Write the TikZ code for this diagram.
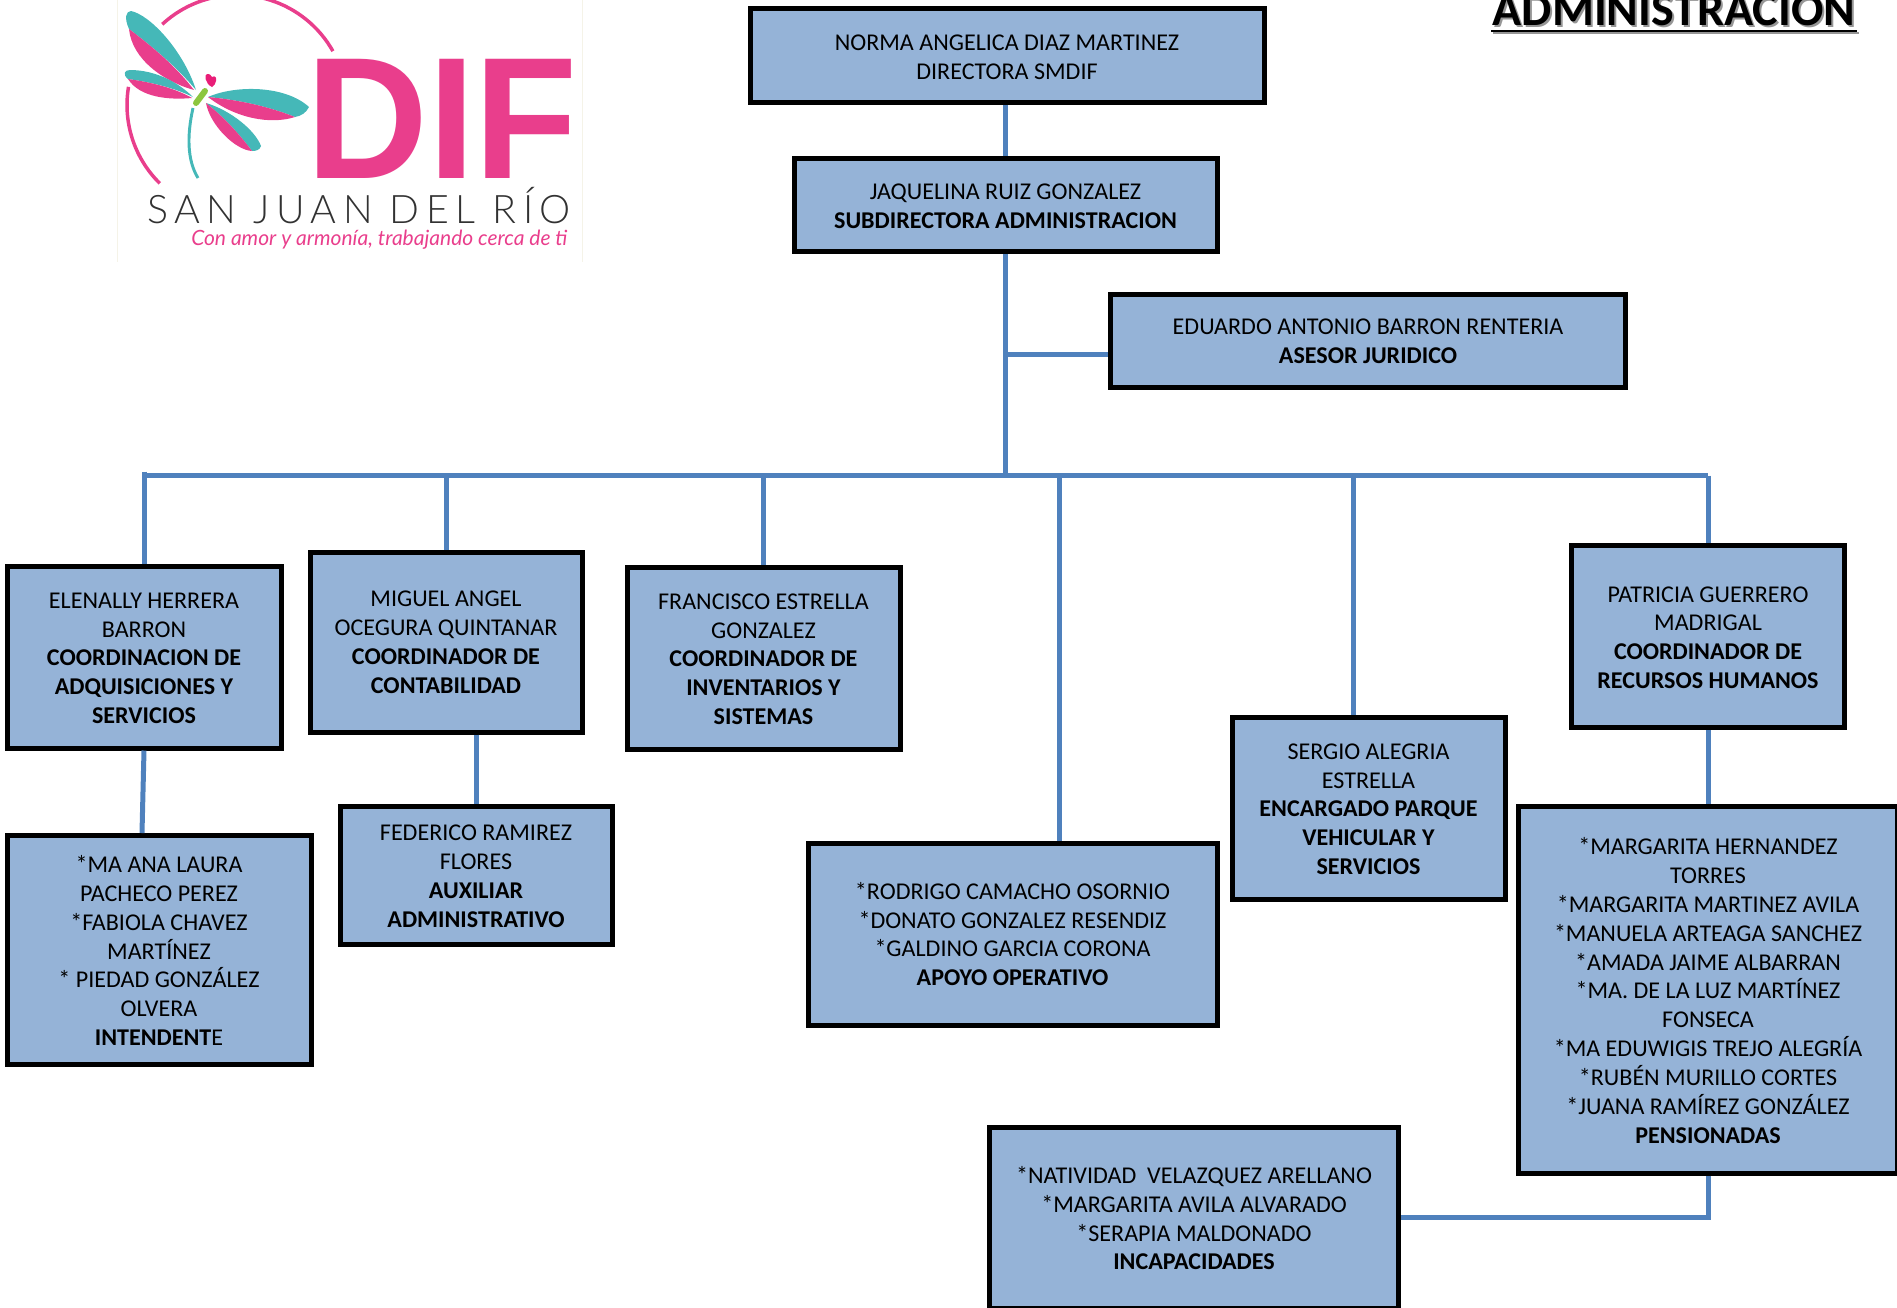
\documentclass[tikz,border=0pt]{standalone}
\usepackage{fontspec}
\setmainfont{Carlito}
\newfontfamily\diffont{Liberation Sans}
\newfontfamily\sanjuanfont[LetterSpace=16.5]{Lato Light}
\newfontfamily\lemafont{Lato}
\newcommand{\alto}{\rule{0pt}{13.5pt}}
\tikzset{
  orgbox/.style={draw=black,line width=3.75pt,fill={rgb, 255:red, 149; green, 179; blue, 215 },align=center,inner sep=0pt,text=black,
    font=\fontsize{18.05}{21.65}\selectfont},
  orgline/.style={draw={rgb, 255:red, 79; green, 129; blue, 189 },line width=3.75pt},
  logopink/.style={fill={rgb, 255:red, 233; green, 62; blue, 140 }},
  logoteal/.style={fill={rgb, 255:red, 69; green, 184; blue, 184 }},
}
\begin{document}
\begin{tikzpicture}[x=0.75pt,y=0.75pt,yscale=-1,xscale=1]
\useasboundingbox (0,0) rectangle (1897,1307);

%Logo edges
\draw [color={rgb, 255:red, 245; green, 243; blue, 232 }] (117,0) -- (117,262) ;
\draw [color={rgb, 255:red, 245; green, 243; blue, 232 }] (582,0) -- (582,262) ;
%Logo ring
\draw [color={rgb, 255:red, 233; green, 62; blue, 140 },line width=2.6pt] (237,105) ++(-132.8:110) arc [start angle=-132.8,end angle=-29.3,radius=110] ;
\draw [color={rgb, 255:red, 233; green, 62; blue, 140 },line width=2.6pt] (237,105) ++(189.5:110) arc [start angle=189.5,end angle=134.6,radius=110] ;
%Wings
\fill [logoteal] (129,29) .. controls (124,18) and (126,11) .. (131,11) .. controls (150,15) and (183,50) .. (196,90) .. controls (175,65) and (150,45) .. (129,29) -- cycle ;
\fill [logopink] (129,29) .. controls (150,45) and (175,65) .. (194,90) .. controls (165,82) and (132,60) .. (129,29) -- cycle ;
\fill [logoteal] (128,79) .. controls (122,74) and (125,70) .. (130,70) .. controls (155,70) and (178,82) .. (193,97) .. controls (175,88) and (150,82) .. (128,79) -- cycle ;
\fill [logopink] (128,79) .. controls (150,82) and (175,88) .. (192,98) .. controls (170,100) and (140,98) .. (128,79) -- cycle ;
\fill [logoteal] (208,97) .. controls (235,85) and (285,85) .. (309,107) .. controls (306,113) and (301,116) .. (295,117) .. controls (270,107) and (240,100) .. (208,97) -- cycle ;
\fill [logopink] (208,97) .. controls (240,100) and (270,107) .. (295,117) .. controls (270,125) and (235,118) .. (208,97) -- cycle ;
\fill [logoteal] (206,103) .. controls (230,110) and (255,130) .. (261,146) .. controls (260,150) and (256,151) .. (252,151) .. controls (240,135) and (225,118) .. (206,103) -- cycle ;
\fill [logopink] (206,103) .. controls (225,118) and (240,135) .. (252,151) .. controls (235,150) and (210,125) .. (206,103) -- cycle ;
%Body, heart and tail
\draw [color={rgb, 255:red, 140; green, 198; blue, 63 },line width=4.5pt,line cap=round] (205,91) -- (196,103) ;
\fill [color={rgb, 255:red, 233; green, 30; blue, 120 }] (212,87) .. controls (205,84) and (204,74) .. (207,74) .. controls (209,73) and (211,75) .. (212,77) .. controls (215,75) and (217,78) .. (216,81) .. controls (216,83) and (214,86) .. (212,87) -- cycle ;
\draw [color={rgb, 255:red, 69; green, 184; blue, 184 },line width=2.2pt] (193,108) .. controls (187,135) and (187,160) .. (198,178) ;

% Text Node
\node (dif) [anchor=base west,inner sep=0pt,xscale=0.973,text={rgb, 255:red, 233; green, 62; blue, 140 },font=\diffont\bfseries\fontsize{130}{130}\selectfont] at (306,178) {DIF};
% Text Node
\node (sanjuan) [anchor=base west,inner sep=0pt,text height=21pt,text={rgb, 255:red, 50; green, 50; blue, 50 },font=\sanjuanfont\fontsize{29.5}{29.5}\selectfont] at (147,223) {SAN JUAN DEL RÍO};
% Text Node
\node (lema) [anchor=base west,inner sep=0pt,text={rgb, 255:red, 233; green, 62; blue, 140 },font=\lemafont\itshape\fontsize{15.75}{15.75}\selectfont] at (191,245.5) {Con amor y armonía, trabajando cerca de ti};

% Text Node
\node (sombra) [anchor=base,inner sep=0pt,text={rgb, 255:red, 150; green, 150; blue, 150 },font=\bfseries\fontsize{36}{36}\selectfont] at (1676,27) {ADMINISTRACION};
\node (titulo) [anchor=base,inner sep=0pt,text=black,font=\bfseries\fontsize{36}{36}\selectfont] at (1674,25) {ADMINISTRACION};
\coordinate (subA) at ([xshift=-1pt]titulo.base west) ;
\coordinate (subB) at ([xshift=1pt]titulo.base east) ;
%Title underline
\draw [color={rgb, 255:red, 150; green, 150; blue, 150 },line width=1.7pt] ([shift={(2,8)}]subA) -- ([shift={(2,8)}]subB) ;
\draw [line width=1.7pt] ([shift={(0,6)}]subA) -- ([shift={(0,6)}]subB) ;

%Boxes
\node (norma) [orgbox,minimum width=514*0.75pt,minimum height=94*0.75pt] at (1007,55.7) {\alto NORMA ANGELICA DIAZ MARTINEZ\\DIRECTORA SMDIF};
\node (jaquelina) [orgbox,minimum width=423*0.75pt,minimum height=93*0.75pt] at (1005.5,205) {\alto JAQUELINA RUIZ GONZALEZ\\\textbf{SUBDIRECTORA ADMINISTRACION}};
\node (eduardo) [orgbox,minimum width=515*0.75pt,minimum height=93*0.75pt] at (1368,340.5) {\alto EDUARDO ANTONIO BARRON RENTERIA\\\textbf{ASESOR JURIDICO}};
\node (elenally) [orgbox,minimum width=274*0.75pt,minimum height=182*0.75pt] at (144,657) {\alto ELENALLY HERRERA\\BARRON\\\textbf{COORDINACION DE}\\\textbf{ADQUISICIONES Y}\\\textbf{SERVICIOS}};
\node (miguel) [orgbox,minimum width=272*0.75pt,minimum height=180*0.75pt] at (446,642) {MIGUEL ANGEL\\OCEGURA QUINTANAR\\\textbf{COORDINADOR DE}\\\textbf{CONTABILIDAD}};
\node (francisco) [orgbox,minimum width=273*0.75pt,minimum height=182*0.75pt] at (763.5,658) {\alto FRANCISCO ESTRELLA\\GONZALEZ\\\textbf{COORDINADOR DE}\\\textbf{INVENTARIOS Y}\\\textbf{SISTEMAS}};
\node (patricia) [orgbox,minimum width=273*0.75pt,minimum height=182*0.75pt] at (1708,636.5) {\alto PATRICIA GUERRERO\\MADRIGAL\\\textbf{COORDINADOR DE}\\\textbf{RECURSOS HUMANOS}};
\node (intendente) [orgbox,minimum width=304*0.75pt,minimum height=229*0.75pt] at (159,950) {\alto *MA ANA LAURA\\PACHECO PEREZ\\*FABIOLA CHAVEZ\\MARTÍNEZ\\* PIEDAD GONZÁLEZ\\OLVERA\\\textbf{INTENDENT}E};
\node (federico) [orgbox,minimum width=272*0.75pt,minimum height=138*0.75pt] at (476,875) {\alto FEDERICO RAMIREZ\\FLORES\\\textbf{AUXILIAR}\\\textbf{ADMINISTRATIVO}};
\node (apoyo) [orgbox,minimum width=409*0.75pt,minimum height=182*0.75pt] at (1012.5,934) {*RODRIGO CAMACHO OSORNIO\\*DONATO GONZALEZ RESENDIZ\\*GALDINO GARCIA CORONA\\\textbf{APOYO OPERATIVO}};
\node (sergio) [orgbox,minimum width=273*0.75pt,minimum height=182*0.75pt] at (1368.5,808) {\alto SERGIO ALEGRIA\\ESTRELLA\\\textbf{ENCARGADO PARQUE}\\\textbf{VEHICULAR Y}\\\textbf{SERVICIOS}};
\node (pensionadas) [orgbox,minimum width=379*0.75pt,minimum height=366.5*0.75pt] at (1708,990) {\alto *MARGARITA HERNANDEZ\\TORRES\\*MARGARITA MARTINEZ AVILA\\*MANUELA ARTEAGA SANCHEZ\\*AMADA JAIME ALBARRAN\\*MA. DE LA LUZ MARTÍNEZ\\FONSECA\\*MA EDUWIGIS TREJO ALEGRÍA\\*RUBÉN MURILLO CORTES\\*JUANA RAMÍREZ GONZÁLEZ\\\textbf{PENSIONADAS}};
\node (incapacidades) [orgbox,minimum width=409*0.75pt,minimum height=180.5*0.75pt] at (1194,1217.75) {\alto *NATIVIDAD~~VELAZQUEZ ARELLANO\\*MARGARITA AVILA ALVARADO\\*SERAPIA MALDONADO\\\textbf{INCAPACIDADES}};

%Bus points
\coordinate (tronco) at (1005.5,475.7) ;
\coordinate (ramaA) at (144,475.7) ;
\coordinate (ramaB) at (446,475.7) ;
\coordinate (ramaC) at (763.5,475.7) ;
\coordinate (ramaD) at (1059,475.7) ;
\coordinate (ramaE) at (1353,475.7) ;
\coordinate (ramaF) at (1708,475.7) ;
\coordinate (cruce) at (1005.5,354.7) ;

%Straight Lines
\draw [orgline] (norma.south -| jaquelina.north) -- (jaquelina.north) ;
\draw [orgline] (jaquelina.south) -- (tronco) ;
\draw [orgline] (cruce) -- (cruce -| eduardo.west) ;
\draw [orgline] (ramaA) -- (ramaF) ;
\draw [orgline,shorten <=-3pt] (ramaA) -- (elenally.north) ;
\draw [orgline] (ramaB) -- (miguel.north) ;
\draw [orgline] (ramaC) -- (francisco.north) ;
\draw [orgline] (ramaD) -- (ramaD |- apoyo.north) ;
\draw [orgline] (ramaE) -- (ramaE |- sergio.north) ;
\draw [orgline] (ramaF) -- (patricia.north) ;
\draw [orgline] (elenally.south) -- (intendente.north -| 142,0) ;
\draw [orgline] (miguel.south -| federico.north) -- (federico.north) ;
\draw [orgline] (patricia.south) -- (pensionadas.north) ;
\draw [orgline] (pensionadas.south) |- (incapacidades.east) ;

\end{tikzpicture}
\end{document}
